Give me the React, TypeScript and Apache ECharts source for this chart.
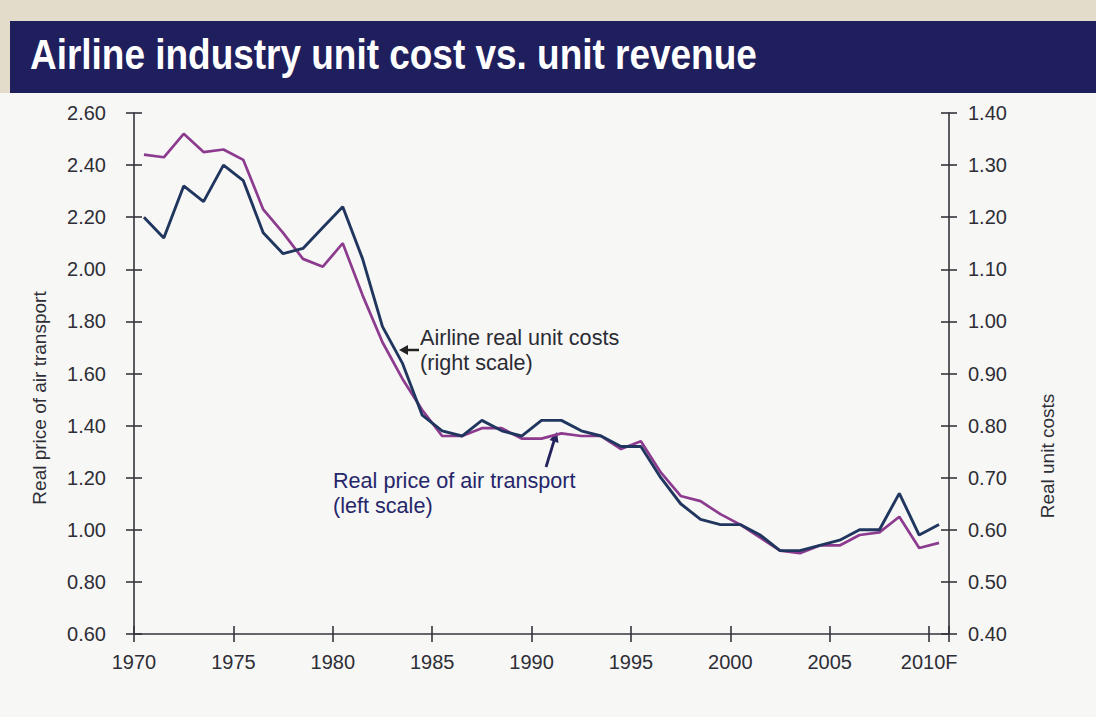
import React, { useEffect, useRef } from "react";
import * as echarts from "echarts";

// ---- data ----
const years = [
  1970, 1971, 1972, 1973, 1974, 1975, 1976, 1977, 1978, 1979,
  1980, 1981, 1982, 1983, 1984, 1985, 1986, 1987, 1988, 1989,
  1990, 1991, 1992, 1993, 1994, 1995, 1996, 1997, 1998, 1999,
  2000, 2001, 2002, 2003, 2004, 2005, 2006, 2007, 2008, 2009, 2010,
];

const xTickLabels = ["1970", "1975", "1980", "1985", "1990", "1995", "2000", "2005", "2010F"];

// Real price of air transport (left scale)
const realPrice = [
  2.44, 2.43, 2.52, 2.45, 2.46, 2.42, 2.23, 2.14, 2.04, 2.01,
  2.10, 1.90, 1.72, 1.58, 1.46, 1.36, 1.36, 1.39, 1.39, 1.35,
  1.35, 1.37, 1.36, 1.36, 1.31, 1.34, 1.22, 1.13, 1.11, 1.06,
  1.02, 0.97, 0.92, 0.91, 0.94, 0.94, 0.98, 0.99, 1.05, 0.93, 0.95,
];

// Airline real unit costs (right scale)
const unitCosts = [
  1.20, 1.16, 1.26, 1.23, 1.30, 1.27, 1.17, 1.13, 1.14, 1.18,
  1.22, 1.12, 0.99, 0.92, 0.82, 0.79, 0.78, 0.81, 0.79, 0.78,
  0.81, 0.81, 0.79, 0.78, 0.76, 0.76, 0.70, 0.65, 0.62, 0.61,
  0.61, 0.59, 0.56, 0.56, 0.57, 0.58, 0.60, 0.60, 0.67, 0.59, 0.61,
];

const titleText = "Airline industry unit cost vs. unit revenue";
const leftAxisName = "Real price of air transport";
const rightAxisName = "Real unit costs";
const costNote = ["Airline real unit costs", "(right scale)"];
const priceNote = ["Real price of air transport", "(left scale)"];

const FONT = '"Liberation Sans", Arial, Helvetica, sans-serif';
const AXIS_COLOR = "#34343c";
const LABEL_COLOR = "#2e2e36";
const PRICE_COLOR = "#8c3b8e";
const COST_COLOR = "#20365f";
const NAVY = "#1f1f5d";

export default function App() {
  const ref = useRef<HTMLDivElement>(null);

  useEffect(() => {
    if (!ref.current) return;
    const chart = echarts.init(ref.current, undefined, { renderer: "svg" });

    const lineStyle = { color: AXIS_COLOR, width: 1.6 };
    const labelBase = { fontSize: 20, color: LABEL_COLOR, fontFamily: FONT };

    const xBase = {
      type: "value" as const,
      min: 0,
      max: 41,
      interval: 5,
      position: "bottom" as const,
      splitLine: { show: false },
    };
    const leftBase = {
      type: "value" as const,
      position: "left" as const,
      min: 0.6,
      max: 2.6,
      interval: 0.2,
      splitLine: { show: false },
    };
    const rightBase = {
      type: "value" as const,
      position: "right" as const,
      min: 0.4,
      max: 1.4,
      interval: 0.1,
      splitLine: { show: false },
    };

    const priceData = years.map((y, i) => [y - years[0] + 0.5, realPrice[i]]);
    const costData = years.map((y, i) => [y - years[0] + 0.5, unitCosts[i]]);

    const option = {
      animation: false,
      backgroundColor: "#e4dccb",
      grid: { left: 134, top: 113, width: 815, height: 521, containLabel: false },
      xAxis: [
        {
          ...xBase,
          axisLine: { show: true, onZero: false, lineStyle },
          axisTick: { show: true, length: 8, lineStyle },
          axisLabel: {
            ...labelBase,
            margin: 18,
            formatter: (v: number) => xTickLabels[v / 5] ?? "",
          },
        },
        {
          ...xBase,
          axisLine: { show: false, onZero: false },
          axisTick: { show: true, inside: true, length: 8, lineStyle },
          axisLabel: { show: false },
        },
      ],
      yAxis: [
        {
          ...leftBase,
          axisLine: { show: true, onZero: false, lineStyle },
          axisTick: { show: true, length: 8, lineStyle },
          axisLabel: { ...labelBase, margin: 28, formatter: (v: number) => v.toFixed(2) },
        },
        {
          ...leftBase,
          axisLine: { show: false, onZero: false },
          axisTick: { show: true, inside: true, length: 8, lineStyle },
          axisLabel: { show: false },
        },
        {
          ...rightBase,
          axisLine: { show: true, onZero: false, lineStyle },
          axisTick: { show: true, length: 8, lineStyle },
          axisLabel: { ...labelBase, margin: 19, formatter: (v: number) => v.toFixed(2) },
        },
        {
          ...rightBase,
          axisLine: { show: false, onZero: false },
          axisTick: { show: true, inside: true, length: 8, lineStyle },
          axisLabel: { show: false },
        },
      ],
      series: [
        // invisible twins so that the tick-only axes carry data
        {
          type: "line",
          xAxisIndex: 1,
          yAxisIndex: 1,
          symbol: "none",
          silent: true,
          lineStyle: { opacity: 0 },
          data: priceData,
        },
        {
          type: "line",
          xAxisIndex: 1,
          yAxisIndex: 3,
          symbol: "none",
          silent: true,
          lineStyle: { opacity: 0 },
          data: costData,
        },
        {
          name: "Real price of air transport",
          type: "line",
          xAxisIndex: 0,
          yAxisIndex: 0,
          symbol: "none",
          lineStyle: { color: PRICE_COLOR, width: 2.7 },
          data: priceData,
        },
        {
          name: "Airline real unit costs",
          type: "line",
          xAxisIndex: 0,
          yAxisIndex: 2,
          symbol: "none",
          lineStyle: { color: COST_COLOR, width: 2.9 },
          data: costData,
        },
      ],
      graphic: [
        { type: "rect", z: -10, shape: { x: 0, y: 93, width: 1096, height: 624 }, style: { fill: "#f7f7f5" } },
        { type: "rect", z: -9, shape: { x: 10, y: 21, width: 1086, height: 72 }, style: { fill: NAVY } },
        {
          type: "text",
          x: 30,
          y: 54,
          scaleX: 0.88,
          style: {
            text: titleText,
            fill: "#ffffff",
            font: `bold 42px ${FONT}`,
            verticalAlign: "middle",
            align: "left",
          },
        },
        {
          type: "text",
          x: 39,
          y: 398,
          rotation: Math.PI / 2,
          style: { text: leftAxisName, fill: LABEL_COLOR, font: `19px ${FONT}`, align: "center", verticalAlign: "middle" },
        },
        {
          type: "text",
          x: 1047,
          y: 456,
          rotation: Math.PI / 2,
          style: { text: rightAxisName, fill: LABEL_COLOR, font: `19px ${FONT}`, align: "center", verticalAlign: "middle" },
        },
        {
          type: "text",
          x: 420,
          y: 337,
          style: { text: costNote[0], fill: "#2b2b33", font: `21.6px ${FONT}`, verticalAlign: "middle" },
        },
        {
          type: "text",
          x: 420,
          y: 362,
          style: { text: costNote[1], fill: "#2b2b33", font: `21.6px ${FONT}`, verticalAlign: "middle" },
        },
        {
          type: "text",
          x: 333,
          y: 480,
          style: { text: priceNote[0], fill: "#26266a", font: `21.6px ${FONT}`, verticalAlign: "middle" },
        },
        {
          type: "text",
          x: 333,
          y: 505,
          style: { text: priceNote[1], fill: "#26266a", font: `21.6px ${FONT}`, verticalAlign: "middle" },
        },
        // arrow to cost line
        { type: "line", shape: { x1: 419, y1: 350, x2: 405, y2: 350 }, style: { stroke: "#222", lineWidth: 2.5 } },
        { type: "polygon", shape: { points: [[399, 350], [408, 345], [408, 355]] }, style: { fill: "#222" } },
        // arrow to price line
        { type: "line", shape: { x1: 546, y1: 467, x2: 554, y2: 441 }, style: { stroke: "#23235e", lineWidth: 2.8 } },
        { type: "polygon", shape: { points: [[557, 432], [558.5, 443], [549.5, 440]] }, style: { fill: "#23235e" } },
      ],
    };

    chart.setOption(option as any);
    return () => chart.dispose();
  }, []);

  return (
    <div
      ref={ref}
      style={{ position: "fixed", left: 0, top: 0, width: 1096, height: 717 }}
    />
  );
}
